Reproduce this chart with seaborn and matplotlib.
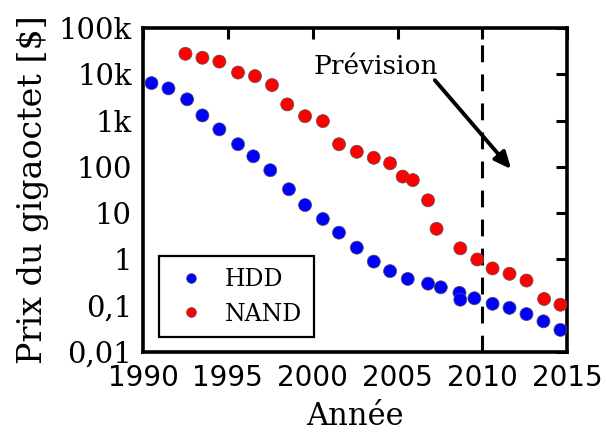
import numpy as np
import pandas as pd
import matplotlib
matplotlib.use("Agg")
import matplotlib.pyplot as plt
from matplotlib.ticker import FixedLocator, FixedFormatter, LogLocator, NullFormatter
import seaborn as sns

# Price per gigabyte, HDD
hdd_years = [1990.5, 1991.5, 1992.6, 1993.5, 1994.5, 1995.6, 1996.5, 1997.5, 1998.6,
             1999.55, 2000.6, 2001.55, 2002.6, 2003.6, 2004.56, 2005.6, 2006.8, 2007.55,
             2008.65, 2008.7, 2009.53, 2010.6, 2011.6, 2012.6, 2013.6, 2014.6]
hdd_prices = [6500, 5000, 2900, 1300, 650, 310, 170, 85, 33,
              15, 7.5, 3.8, 1.8, 0.9, 0.56, 0.38, 0.30, 0.25,
              0.19, 0.135, 0.145, 0.11, 0.09, 0.066, 0.046, 0.030]

# Price per gigabyte, NAND flash
nand_years = [1992.5, 1993.5, 1994.5, 1995.6, 1996.6, 1997.6, 1998.5, 1999.55, 2000.6,
              2001.55, 2002.6, 2003.6, 2004.56, 2005.3, 2005.9, 2006.8, 2007.3, 2008.7,
              2009.7, 2010.6, 2011.6, 2012.6, 2013.64, 2014.6]
nand_prices = [28000, 23000, 19000, 11000, 9200, 5900, 2250, 1250, 980,
               310, 213, 158, 120, 62, 52, 19, 4.6, 1.74,
               1.0, 0.64, 0.49, 0.35, 0.14, 0.105]

y_ticks = [0.01, 0.1, 1, 10, 100, 1e3, 1e4, 1e5]
y_tick_labels = ["0,01", "0,1", "1", "10", "100", "1k", "10k", "100k"]
x_ticks = [1990, 1995, 2000, 2005, 2010, 2015]

df = pd.concat([
    pd.DataFrame({"Année": hdd_years, "Prix": hdd_prices, "Type": "HDD"}),
    pd.DataFrame({"Année": nand_years, "Prix": nand_prices, "Type": "NAND"}),
], ignore_index=True)

sns.set_style("white")
plt.rcParams["text.color"] = "black"
plt.rcParams["axes.labelcolor"] = "black"
plt.rcParams["xtick.color"] = "black"
plt.rcParams["ytick.color"] = "black"

fig = plt.figure(figsize=(6.06, 4.34), dpi=100)
ax = fig.add_axes([0.236, 0.189, 0.700, 0.746])

sns.scatterplot(data=df, x="Année", y="Prix", hue="Type",
                palette={"HDD": "#0000ff", "NAND": "#ff0000"},
                s=88, edgecolor="#555555", linewidth=0.5, ax=ax, zorder=3)

ax.set_yscale("log")
ax.set_xlim(1990, 2015)
ax.set_ylim(0.01, 1e5)

ax.yaxis.set_major_locator(FixedLocator(y_ticks))
ax.yaxis.set_major_formatter(FixedFormatter(y_tick_labels))
ax.yaxis.set_minor_locator(LogLocator(base=10, subs=np.arange(2, 10)))
ax.yaxis.set_minor_formatter(NullFormatter())
ax.set_xticks(x_ticks)

ax.tick_params(axis="both", which="major", direction="in", length=8, width=2.2,
               top=True, right=True)
ax.tick_params(axis="x", which="major", labelsize=20, pad=9)
ax.tick_params(axis="y", which="major", labelsize=21, pad=8)
ax.tick_params(axis="y", which="minor", direction="in", length=4, width=1.5,
               left=True, right=True)
for lbl in ax.get_yticklabels():
    lbl.set_family("DejaVu Serif")
for lbl in ax.get_xticklabels():
    lbl.set_family("DejaVu Sans")

for sp in ax.spines.values():
    sp.set_linewidth(2.6)
    sp.set_color("black")

ax.set_xlabel("Année", family="DejaVu Serif", fontsize=22, labelpad=6)
ax.set_ylabel(r"Prix du gigaoctet [\$]", family="DejaVu Serif", fontsize=24, labelpad=7)

# Forecast boundary
ax.axvline(2010, color="black", linestyle=(0, (5.5, 4)), linewidth=2.2, zorder=2)
ax.text(2003.7, 14500, "Prévision", ha="center", va="center",
        family="DejaVu Serif", fontsize=19)
ax.annotate("", xy=(2011.7, 90), xytext=(2007.2, 7500),
            arrowprops=dict(arrowstyle="-|>,head_length=1.0,head_width=0.45",
                            color="black", lw=2.8, shrinkA=0, shrinkB=0))

leg = ax.legend(loc="lower left", bbox_to_anchor=(0.037, 0.045), frameon=True,
                fancybox=False, edgecolor="black", markerscale=0.75,
                prop={"family": "DejaVu Serif", "size": 17},
                handletextpad=0.6, borderpad=0.5, labelspacing=0.5,
                handlelength=1.7, borderaxespad=0)
leg.get_frame().set_linewidth(1.6)
leg.get_frame().set_alpha(1)
for t in leg.get_texts():
    t.set_color("black")

fig.savefig("out.png", dpi=100)
